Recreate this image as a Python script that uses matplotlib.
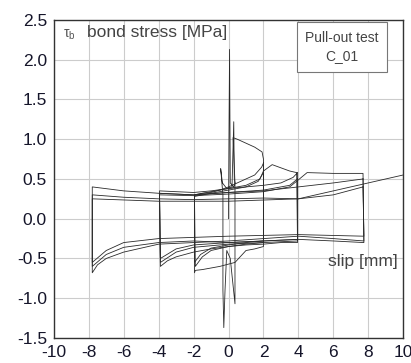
import matplotlib.pyplot as plt

plt.rcParams['font.family'] = ['Liberation Sans', 'DejaVu Sans']

# tick values
x_ticks = [-10, -8, -6, -4, -2, 0, 2, 4, 6, 8, 10]
y_ticks = [-1.5, -1.0, -0.5, 0.0, 0.5, 1.0, 1.5, 2.0, 2.5]

# initial small cycles (+-0.4 mm) with peak
slip_c0 = [0.0, 0.03, 0.06, 0.1, 0.3, 0.37, 0.37, 0.1, -0.1, -0.2, -0.27, -0.32, -0.32, -0.32, -0.45, -0.35, -0.1, 0.2, 0.3, 0.33, 0.37]
tau_c0 = [0.0, 1.2, 2.13, 0.45, 0.4, 0.45, -1.07, -0.5, -0.4, -0.9, -1.37, -0.9, -0.4, 0.3, 0.63, 0.45, 0.38, 0.4, 1.22, 0.5, 0.45]

# +-2 mm cycles
slip_c1 = [0.37, 0.26, 0.5, 1.0, 1.5, 1.92, 2.0, 2.0, 1.5, 1.0, 0.37, -0.5, -1.0, -1.5, -1.9, -1.95, -1.95, -1.5, -1.0, -0.5, 0.0, 0.5, 1.0, 1.5, 1.9, 2.0]
tau_c1 = [0.45, 1.02, 1.0, 0.95, 0.9, 0.84, 0.75, -0.35, -0.38, -0.4, -0.55, -0.6, -0.62, -0.64, -0.65, -0.68, 0.3, 0.32, 0.33, 0.36, 0.4, 0.45, 0.5, 0.55, 0.65, 0.7]
slip_c2 = [2.0, 2.0, 1.0, 0.0, -1.0, -1.5, -1.9, -1.95, -1.0, 0.0, 1.0, 1.8, 2.0]
tau_c2 = [0.7, -0.3, -0.32, -0.35, -0.4, -0.48, -0.6, 0.3, 0.34, 0.38, 0.42, 0.5, 0.6]
slip_c2b = [2.0, 2.0, 1.0, 0.0, -1.0, -1.6, -1.95, -1.95, -1.0, 0.0, 1.0, 1.7, 2.0]
tau_c2b = [0.6, -0.28, -0.3, -0.33, -0.37, -0.45, -0.55, 0.28, 0.32, 0.36, 0.4, 0.47, 0.58]

# +-4 mm cycles
slip_c3 = [2.0, 2.5, 3.0, 3.5, 3.9, 3.95, 3.0, 2.0, 1.0, 0.0, -1.0, -2.0, -3.0, -3.5, -3.9, -3.95, -3.0, -2.0, -1.0, 0.0, 1.0, 2.0, 3.0, 3.7, 3.95]
tau_c3 = [0.6, 0.68, 0.64, 0.6, 0.58, -0.3, -0.3, -0.32, -0.33, -0.35, -0.38, -0.42, -0.48, -0.53, -0.6, 0.35, 0.34, 0.33, 0.35, 0.38, 0.4, 0.42, 0.45, 0.52, 0.58]
slip_c4 = [3.95, 3.95, 2.0, 0.0, -2.0, -3.0, -3.9, -3.95, -2.0, 0.0, 2.0, 3.5, 3.95]
tau_c4 = [0.58, -0.28, -0.3, -0.32, -0.36, -0.42, -0.55, 0.32, 0.3, 0.33, 0.36, 0.42, 0.5]
slip_c4b = [3.95, 3.95, 2.0, 0.0, -2.0, -3.0, -3.9, -3.95, -2.0, 0.0, 2.0, 3.5, 3.95]
tau_c4b = [0.5, -0.26, -0.28, -0.3, -0.33, -0.38, -0.5, 0.3, 0.29, 0.31, 0.34, 0.4, 0.48]

# +-8 mm cycles and final pull-out
slip_c5 = [3.95, 4.5, 6.0, 7.7, 7.75, 6.0, 4.0, 2.0, 0.0, -2.0, -4.0, -5.0, -6.0, -7.0, -7.5, -7.8, -7.8, -6.0, -4.0, -2.0, 0.0, 2.0, 4.0, 6.0, 7.7]
tau_c5 = [0.48, 0.58, 0.57, 0.57, -0.28, -0.25, -0.22, -0.25, -0.28, -0.3, -0.32, -0.37, -0.42, -0.5, -0.58, -0.68, 0.4, 0.35, 0.32, 0.3, 0.33, 0.35, 0.4, 0.45, 0.5]
slip_c6 = [7.7, 7.75, 6.0, 4.0, 2.0, 0.0, -2.0, -4.0, -6.0, -7.0, -7.8, -7.8, -6.0, -4.0, -2.0, 0.0, 2.0, 4.0, 6.0, 7.7]
tau_c6 = [0.5, -0.3, -0.28, -0.26, -0.28, -0.3, -0.28, -0.3, -0.36, -0.45, -0.6, 0.3, 0.27, 0.25, 0.24, 0.25, 0.26, 0.25, 0.3, 0.4]
slip_c7 = [7.7, 7.75, 4.0, 0.0, -4.0, -6.0, -7.0, -7.8, -7.8, -4.0, 0.0, 4.0, 6.0, 8.0, 9.0, 10.0]
tau_c7 = [0.4, -0.22, -0.2, -0.22, -0.25, -0.3, -0.4, -0.55, 0.25, 0.22, 0.22, 0.25, 0.35, 0.45, 0.5, 0.55]

cycles = [(slip_c0, tau_c0), (slip_c1, tau_c1), (slip_c2, tau_c2), (slip_c2b, tau_c2b),
          (slip_c3, tau_c3), (slip_c4, tau_c4), (slip_c4b, tau_c4b),
          (slip_c5, tau_c5), (slip_c6, tau_c6), (slip_c7, tau_c7)]

fig = plt.figure(figsize=(4.11, 3.63), dpi=100)
ax = fig.add_axes([0.131, 0.069, 0.85, 0.876])

for s, t in cycles:
    ax.plot(s, t, color='#2a2a2a', lw=0.6)

ax.set_xlim(-10, 10)
ax.set_ylim(-1.5, 2.5)
ax.set_xticks(x_ticks)
ax.set_yticks(y_ticks)
ax.set_xticklabels([str(v) for v in x_ticks])
ax.set_yticklabels(['%.1f' % v for v in y_ticks])
ax.tick_params(length=0, labelsize=12.5, labelcolor='#15152a', pad=5)
ax.grid(True, color='#cccccc', lw=0.8)
ax.set_axisbelow(True)
for sp in ax.spines.values():
    sp.set_color('#333333')
    sp.set_linewidth(1.0)

ax.text(0.025, 0.975, r'$\mathregular{\tau_b}$', transform=ax.transAxes,
        ha='left', va='top', fontsize=10, color='#555555')
ax.text(0.095, 0.985, 'bond stress [MPa]', transform=ax.transAxes,
        ha='left', va='top', fontsize=12.5, color='#444444')
ax.text(0.825, 0.915, 'Pull-out test\nC_01', transform=ax.transAxes,
        ha='center', va='center', fontsize=10, color='#444444', linespacing=1.4,
        bbox=dict(boxstyle='square,pad=0.6', fc='white', ec='#777777', lw=0.8))
ax.text(0.985, 0.24, 'slip [mm]', transform=ax.transAxes,
        ha='right', va='center', fontsize=12.5, color='#444444')

fig.savefig('out.png', dpi=100)
